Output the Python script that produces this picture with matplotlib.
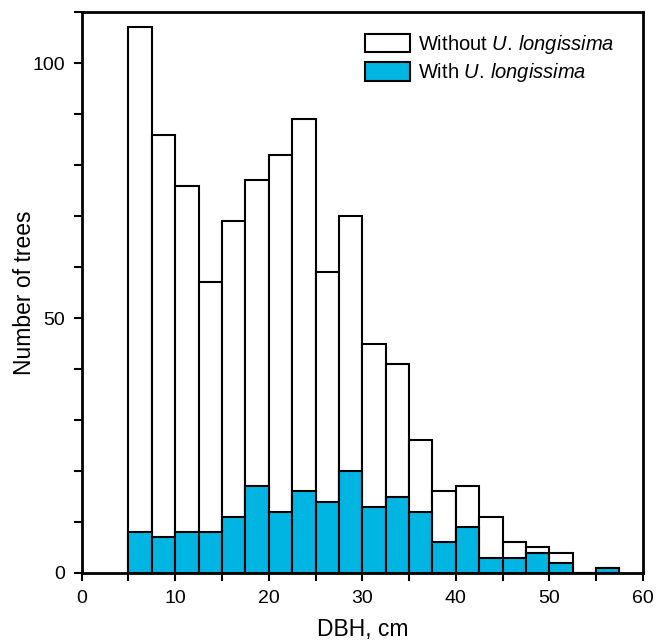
import matplotlib
matplotlib.use('Agg')
import matplotlib.pyplot as plt
from matplotlib.ticker import MultipleLocator

plt.rcParams['font.family'] = ['Liberation Sans', 'DejaVu Sans']
plt.rcParams['mathtext.fontset'] = 'custom'
plt.rcParams['mathtext.rm'] = 'Liberation Sans'
plt.rcParams['mathtext.it'] = 'Liberation Sans:italic'

# DBH classes (left edge, cm), width 2.5 cm
bin_left = [5, 7.5, 10, 12.5, 15, 17.5, 20, 22.5, 25, 27.5, 30,
            32.5, 35, 37.5, 40, 42.5, 45, 47.5, 50, 52.5, 55]
total = [107, 86, 76, 57, 69, 77, 82, 89, 59, 70, 45,
         41, 26, 16, 17, 11, 6, 5, 4, 0, 1]
with_ul = [8, 7, 8, 8, 11, 17, 12, 16, 14, 20, 13,
           15, 12, 6, 9, 3, 3, 4, 2, 0, 1]

fig = plt.figure(figsize=(6.56, 6.42), dpi=100)
ax = fig.add_axes([0.1245, 0.1075, 0.8555, 0.8735])

ax.bar(bin_left, total, width=2.5, align='edge', color='white',
       edgecolor='black', linewidth=1.5,
       label='Without $\\it{U.\\,longissima}$')
ax.bar(bin_left, with_ul, width=2.5, align='edge', color='#00B5E2',
       edgecolor='black', linewidth=1.5,
       label='With $\\it{U.\\,longissima}$')

ax.set_xlim(0, 60)
ax.set_ylim(0, 110)
ax.xaxis.set_major_locator(MultipleLocator(10))
ax.xaxis.set_minor_locator(MultipleLocator(5))
ax.yaxis.set_major_locator(MultipleLocator(50))
ax.yaxis.set_minor_locator(MultipleLocator(10))
ax.tick_params(which='both', direction='out', width=1.5, length=6,
               labelsize=14, pad=6)
for s in ax.spines.values():
    s.set_linewidth(2)

ax.set_xlabel('DBH, cm', fontsize=16.5, labelpad=8)
ax.set_ylabel('Number of trees', fontsize=16.5)
ax.yaxis.set_label_coords(-0.082, 0.5)

ax.legend(loc='upper left', bbox_to_anchor=(365 / 656, 1 - 33 / 642),
          bbox_transform=fig.transFigure, frameon=False,
          fontsize=14.5, handlelength=2.25, handleheight=1.05,
          handletextpad=0.4, labelspacing=0.25, borderaxespad=0,
          borderpad=0)

fig.savefig('out.png', dpi=100)
